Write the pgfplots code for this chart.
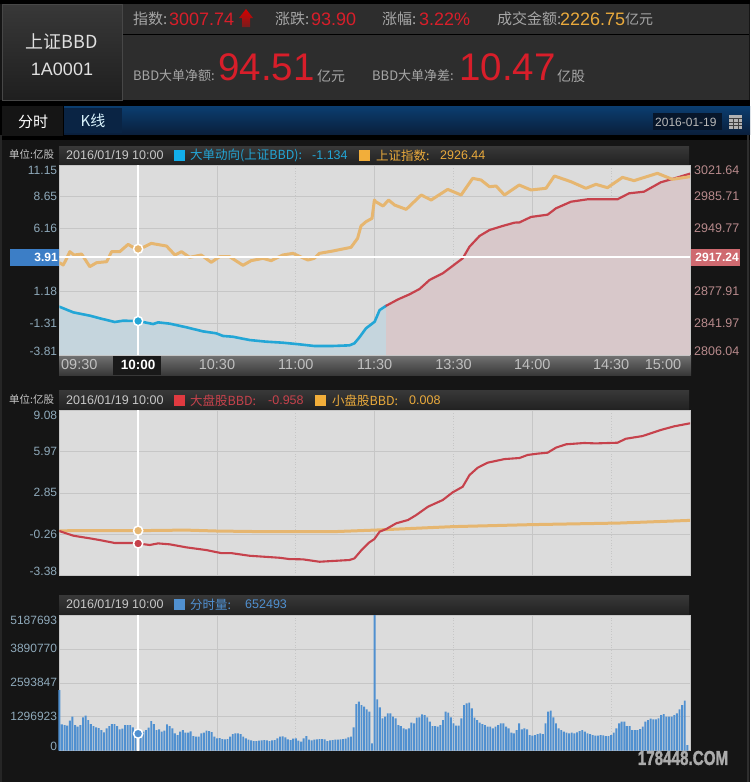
\documentclass[border=0pt]{standalone}
\usepackage{pgfplots}
\pgfplotsset{compat=1.18}
\usepackage{pgfplotstable}
\usepackage{fontspec}
\setmainfont{Liberation Sans}
\newfontfamily\cjk{Noto Sans CJK SC}
\definecolor{pagebg}{HTML}{151515}
\definecolor{plotbg}{HTML}{DCDCDC}
\definecolor{gridc}{HTML}{C6C6C6}
\definecolor{panel}{HTML}{2D2D2D}
\definecolor{cblue}{HTML}{23A6D6}
\definecolor{cblues}{HTML}{12AEEA}
\definecolor{corange}{HTML}{E6B670}
\definecolor{coranges}{HTML}{F2AE3A}
\definecolor{cred}{HTML}{C6424C}
\definecolor{creds}{HTML}{E03A40}
\definecolor{cbar}{HTML}{5090D0}
\definecolor{fillb}{HTML}{C5D5DD}
\definecolor{fillr}{HTML}{D8C8CA}
\definecolor{tll}{HTML}{8FAABB}
\definecolor{tlr}{HTML}{B88A8C}
\definecolor{txt}{HTML}{A6A6A6}
\definecolor{bigred}{HTML}{D81E2A}
\definecolor{gold}{HTML}{EAAA3C}
\definecolor{boxb}{HTML}{3C7EC6}
\definecolor{boxr}{HTML}{CF6A70}
\newcommand\fs[1]{\fontsize{#1}{#1}\selectfont}
\newcommand\R[2]{\raisebox{#1}{#2}}

\pgfplotstableread{
x y
0 -0.005
5.3 -0.45
11.6 -0.71
15.4 -0.92
21.1 -1.21
24.3 -1.11
30 -1.134
35.7 -1.37
37.6 -1.24
42 -1.34
48.4 -1.63
54.7 -1.95
59.7 -2.10
62.3 -2.31
66 -2.37
72.4 -2.63
78.7 -2.76
85 -2.84
91.4 -2.97
97 -3.10
104 -3.10
110.4 -3.05
112.3 -2.89
114.2 -2.42
116.7 -1.71
120 -1.19
121.9 -0.27
124.4 0.07
}\bluetab
\pgfplotstableread{
x y
124.4 0.07
128.9 0.57
133.3 0.97
137.1 1.39
140.9 2.10
145.9 2.62
153.5 3.80
156.1 4.72
159.9 5.56
163.7 6.03
168.7 6.35
173.2 6.61
175.1 6.63
179.5 7.06
185.8 7.24
189 7.74
194.7 8.26
201 8.45
212.4 8.45
216.8 8.92
222.5 9.05
228.9 9.79
233.3 10.05
240 10.47
}\redtab
\pgfplotstableread{
x y
0 2910.8
1.5 2908.2
2.5 2913.8
4 2923.3
5.6 2919.5
8.5 2920.6
11.6 2906.3
14.2 2910.8
18 2911.9
19.9 2923.3
23 2923.3
26.2 2931.6
28.1 2928.2
30 2926.44
32 2928.2
35 2932.7
40.8 2929.7
44 2919.5
46.5 2923.3
49.6 2916.9
54 2919.5
57.8 2911.2
61 2917.6
64.8 2917.6
69.9 2907.8
73 2913.1
77.5 2915.7
80.6 2913.1
85 2919.5
88.9 2921.4
94.6 2913.8
97 2915.7
99 2921.4
104 2924.0
111 2928.2
113.5 2938.4
114.8 2952.4
116.7 2957.3
119 2961.1
119.9 2981.9
120.4 2980.0
123.2 2975.1
125.3 2981.9
127.6 2976.2
132 2971.3
137.7 2987.6
141.5 2981.9
147.8 2994.0
152.9 2987.6
157.3 3006.5
160.5 3004.6
163.7 2997.0
166.2 2997.8
169.4 2987.6
175 2998.9
179.5 2993.3
185.2 2995.2
188.4 3009.2
194.7 3002.7
200.4 2995.2
204.2 2999.7
208.6 2995.9
214.3 3007.6
218.7 3003.9
227.6 3012.2
233.3 3005.4
240 3008.4
}\indextab
\pgfplotstableread{
x y
0 -0.02
1.5 -0.12
5.3 -0.37
11.6 -0.57
15.4 -0.70
21.1 -0.92
27.5 -0.92
30 -0.958
34.4 -1.07
37.6 -0.95
42 -1.02
48.4 -1.25
55.9 -1.45
61.6 -1.68
65.4 -1.68
72.4 -1.88
83.8 -2.03
87.6 -2.13
92.7 -2.15
99 -2.33
110.4 -2.20
112.3 -2.08
114.8 -1.50
118 -0.87
119.9 -0.62
121.9 -0.07
124.4 0.13
128.2 0.56
132.7 0.81
135.8 1.18
140.3 1.81
145.9 2.31
149.7 2.89
153.5 3.31
156.1 4.19
159.2 4.74
163 5.12
169.4 5.39
175.1 5.47
178.2 5.70
182 5.80
185.8 5.87
189 6.25
192.8 6.50
199.7 6.60
204.2 6.57
212.4 6.62
215.6 6.92
221.9 7.12
228.9 7.58
233.9 7.85
240 8.08
}\bigtab
\pgfplotstableread{
x y
0 0.0
30 0.008
48 0.05
60 -0.02
78.7 -0.07
104 -0.07
120 0.05
149.7 0.31
179.5 0.46
213 0.58
240 0.78
}\smalltab
\pgfplotstableread[row sep=\\,header=false]{
2319000\\1007000\\981000\\956000\\1147000\\1300000\\981000\\917000\\981000\\1274000\\1338000\\1172000\\1019000\\943000\\892000\\867000\\790000\\701000\\854000\\943000\\1019000\\1019000\\943000\\816000\\841000\\981000\\981000\\981000\\892000\\790000\\652493\\561000\\726000\\790000\\879000\\1134000\\1019000\\790000\\816000\\726000\\765000\\1007000\\943000\\854000\\663000\\599000\\726000\\790000\\688000\\688000\\739000\\561000\\535000\\535000\\663000\\688000\\765000\\752000\\714000\\535000\\
471000\\484000\\446000\\433000\\446000\\535000\\637000\\663000\\663000\\637000\\535000\\471000\\421000\\395000\\370000\\370000\\382000\\395000\\408000\\395000\\370000\\395000\\408000\\471000\\535000\\548000\\510000\\433000\\408000\\459000\\471000\\382000\\344000\\471000\\561000\\421000\\395000\\421000\\433000\\446000\\446000\\433000\\370000\\395000\\408000\\421000\\421000\\433000\\446000\\459000\\510000\\535000\\
892000\\1784000\\1873000\\1746000\\1682000\\1580000\\1491000\\280000\\5187693\\
1962000\\1657000\\1236000\\1300000\\1427000\\1427000\\1300000\\1236000\\981000\\943000\\854000\\816000\\854000\\1070000\\1045000\\1262000\\1274000\\1389000\\1364000\\1274000\\1109000\\943000\\943000\\917000\\981000\\1172000\\1491000\\1453000\\1274000\\1045000\\956000\\956000\\1236000\\1746000\\1810000\\1835000\\1618000\\1262000\\1172000\\1070000\\1020000\\981000\\917000\\917000\\854000\\917000\\981000\\1045000\\1045000\\917000\\854000\\688000\\663000\\790000\\1045000\\816000\\854000\\816000\\599000\\573000\\599000\\637000\\663000\\637000\\1045000\\1491000\\1529000\\1274000\\1045000\\854000\\790000\\726000\\688000\\663000\\688000\\663000\\701000\\752000\\790000\\726000\\663000\\637000\\599000\\573000\\573000\\599000\\585000\\561000\\561000\\599000\\688000\\854000\\1045000\\1109000\\1109000\\943000\\943000\\790000\\790000\\790000\\828000\\917000\\1109000\\1172000\\1223000\\1198000\\1198000\\1236000\\1364000\\1402000\\1300000\\1300000\\1300000\\1364000\\1427000\\1580000\\1746000\\1911000\\217000\\
}\voltab

\pgfplotsset{
 panel/.style={scale only axis,width=630.7pt,xmin=0,xmax=240,anchor=south west,
  axis line style={draw=none},tick style={draw=none},major tick length=0pt,
  scaled y ticks=false,
  grid style={gridc,line width=0.7pt},xmajorgrids=true,ymajorgrids=true,
  yticklabel style={font=\fs{12},text=tll,anchor=east,inner sep=0pt,text height=8pt,text depth=0pt,xshift=-2pt},
  xticklabel style={font=\fs{14.5},text=black!25,inner sep=0pt,text height=9pt,text depth=0pt,yshift=-5.5pt},
  extra x tick style={grid style={gridc,dotted,line width=0.7pt}},
  axis background/.style={fill=plotbg}},
 lin/.style={no markers,line join=round,line cap=round,line width=2.6pt},
 mk/.style={only marks,mark=*,mark size=4.6pt,mark options={draw=white,line width=1.5pt,fill=#1}},
}
\newcommand\hdr[2]{\shade[top color=black!78,bottom color=black!87] (59,#1) rectangle (689,#2);}

\begin{document}
\begin{tikzpicture}
\path[use as bounding box] (0,0) rectangle (750pt,-782pt);
\fill[pagebg] (0,0) rectangle (750pt,-782pt);
\begin{scope}[x=1pt,y=-1pt]
% outer
\fill[black] (0,0) rectangle (750,4);
\fill[black] (0,100) rectangle (750,140);
\fill[black!85] (0,135) rectangle (1.5,782);
\fill[black!82] (747,135) rectangle (748.5,782);
% top panels
\shade[top color=black!78,bottom color=black!88,draw=black!72] (2,4) rectangle (122,100);
\fill[panel] (123,4) rectangle (749,100);
\draw[black,line width=1pt] (123,34) -- (749,34);
\node[text=black!12,font=\cjk\fs{18}] at (62,42) {上证BBD};
\node[text=black!12,font=\fs{18}] at (62,69) {1A0001};
\tikzset{t/.style={anchor=west,inner sep=0pt}}
\node[t,text=txt,font=\cjk\fs{15}] at (133,19) {指数:};
\node[t,text=bigred,font=\fs{18}] at (169,19) {3007.74};
\shade[top color=red!85!black,bottom color=red!35!panel] (246,9) -- (253,18) -- (250,18) -- (250,27) -- (242,27) -- (242,18) -- (239,18) -- cycle;
\node[t,text=txt,font=\cjk\fs{15}] at (275,19) {涨跌:};
\node[t,text=bigred,font=\fs{18}] at (311,19) {93.90};
\node[t,text=txt,font=\cjk\fs{15}] at (382,19) {涨幅:};
\node[t,text=bigred,font=\fs{18}] at (419,19) {3.22\%};
\node[t,text=txt,font=\cjk\fs{15}] at (497,19) {成交金额:};
\node[t,text=gold,font=\fs{18}] at (560,19) {2226.75};
\node[t,text=txt,font=\cjk\fs{14}] at (625,19) {亿元};
\node[t,text=txt,font=\cjk\fs{13}] at (133,76) {BBD大单净额:};
\node[t,text=bigred,font=\fs{38.5}] at (218,67) {94.51};
\node[t,text=txt,font=\cjk\fs{14}] at (317,76) {亿元};
\node[t,text=txt,font=\cjk\fs{13}] at (372,76) {BBD大单净差:};
\node[t,text=bigred,font=\fs{38.5}] at (459,67) {10.47};
\node[t,text=txt,font=\cjk\fs{14}] at (557,76) {亿股};
% tab bar
\definecolor{barT}{HTML}{0B3E70}\definecolor{barB}{HTML}{0A1F3C}
\shade[top color=barT,bottom color=barB] (64,106) rectangle (750,134);
\fill[pagebg] (2,106) rectangle (63,136);
\fill[barB!85!barT] (64,108) rectangle (122,133);
\node[text=white,font=\cjk\fs{15}] at (33,122) {分时};
\node[text=cyan!15!white,font=\cjk\fs{15}] at (93,121) {K线};
\fill[black!30!barB] (653,113) rectangle (722,130);
\node[t,text=black!28,font=\fs{12}] at (655,122) {2016-01-19};
\fill[black!30] (729,115) rectangle (742,129);
\draw[black!75,line width=.6pt] (729,118.5)--(742,118.5) (729,122)--(742,122) (729,125.5)--(742,125.5) (733,118)--(733,129) (738,118)--(738,129);
% chart headers
\hdr{146}{165}\hdr{390}{410}\hdr{595}{615}
\shade[top color=black!55,bottom color=black!78] (59,355) rectangle (691,375);
\fill[black!90] (113,356) rectangle (161,375);
% header 1
\node[t,text=black!22,font=\fs{10.5}] at (9,154) {\cjk 单位:亿股};
\node[t,text=black!22,font=\fs{12.5}] at (66,155.5) {2016/01/19 10:00};
\fill[cblues] (174,150) rectangle (185,161);
\node[t,text=cblue,font=\cjk\fs{12.5}] at (190,155.5) {大单动向(上证BBD):};
\node[t,text=cblue,font=\fs{12.5}] at (312,155.5) {-1.134};
\fill[coranges] (359,150) rectangle (370,161);
\node[t,text=gold,font=\cjk\fs{12.5}] at (376,155.5) {上证指数:};
\node[t,text=gold,font=\fs{12.5}] at (440,155.5) {2926.44};
% header 2
\node[t,text=black!22,font=\fs{10.5}] at (9,399.5) {\cjk 单位:亿股};
\node[t,text=black!22,font=\fs{12.5}] at (66,400.5) {2016/01/19 10:00};
\fill[creds] (174,395) rectangle (185,406);
\node[t,text=cred,font=\cjk\fs{12.5}] at (190,400.5) {大盘股BBD:};
\node[t,text=cred,font=\fs{12.5}] at (268,400.5) {-0.958};
\fill[coranges] (315,395) rectangle (326,406);
\node[t,text=gold,font=\cjk\fs{12.5}] at (332,400.5) {小盘股BBD:};
\node[t,text=gold,font=\fs{12.5}] at (409,400.5) {0.008};
% header 3
\node[t,text=black!22,font=\fs{12.5}] at (66,604.5) {2016/01/19 10:00};
\fill[cbar] (174,599) rectangle (185,610);
\node[t,text=cbar,font=\cjk\fs{12.5}] at (190,604.5) {分时量:};
\node[t,text=cbar,font=\fs{12.5}] at (245,604.5) {652493};
% crosshair value boxes
\fill[boxb] (10,249) rectangle (59,266);
\fill[boxr] (690,249) rectangle (740,266);
\node[anchor=east,inner sep=0pt,text=white,font=\bfseries\fs{12}] at (58,257.5) {3.91};
\node[anchor=east,inner sep=0pt,text=white,font=\bfseries\fs{12}] at (739,257.5) {2917.24};
% watermark
\node[text=black!33,font=\bfseries\fs{20}\addfontfeature{FakeBold=2},xscale=.76] at (683,758) {178448.COM};
\end{scope}

% ---------- chart 1 left
\begin{axis}[panel,at={(59.3pt,-355pt)},height=190pt,ymin=-3.81,ymax=11.15,
  xtick={0,30,60,120,180,240},
  xticklabels={\hspace*{40pt}09:30,\textbf{\fs{13.5}\textcolor{white}{10:00}},10:30,11:30,14:00,15:00\hspace*{54pt}},
  extra x ticks={90,150,210},extra x tick labels={11:00,13:30,14:30},
  ytick={-3.81,-1.31,1.18,6.16,8.65,11.15},
  yticklabels={\R{4pt}{-3.81},-1.31,1.18,6.16,8.65,\R{-5pt}{11.15}}]
\addplot[fill=fillb,draw=none] table[x=x,y=y]{\bluetab} -- (axis cs:124.4,-3.81) -- (axis cs:0,-3.81) -- cycle;
\addplot[fill=fillr,draw=none] table[x=x,y=y]{\redtab} -- (axis cs:240,-3.81) -- (axis cs:124.4,-3.81) -- cycle;
\addplot[lin,cblue] table[x=x,y=y]{\bluetab};
\addplot[lin,cred,line width=2.2pt] table[x=x,y=y]{\redtab};
\draw[white,line width=2.3pt] (axis cs:30,-3.81) -- (axis cs:30,11.15);
\addplot[mk=cblue] coordinates {(30,-1.134)};
\end{axis}
% ---------- chart 1 right
\begin{axis}[panel,at={(59.3pt,-355pt)},height=190pt,ymin=2806.04,ymax=3021.64,
  axis x line=none,axis y line*=right,xmajorgrids=false,ymajorgrids=false,
  axis background/.style={},
  ytick={2806.04,2841.97,2877.91,2949.77,2985.71,3021.64},
  yticklabels={\R{4pt}{2806.04},2841.97,2877.91,2949.77,2985.71,\R{-5pt}{3021.64}},
  yticklabel style={font=\fs{12.5},text=tlr,anchor=west,inner sep=0pt,text height=8pt,text depth=0pt,xshift=6pt}]
\addplot[lin,corange,line width=3pt] table[x=x,y=y]{\indextab};
\draw[white,line width=2.8pt] (axis cs:0,2917.24) -- (axis cs:240,2917.24);
\addplot[mk=corange] coordinates {(30,2926.44)};
\end{axis}
% ---------- chart 2
\begin{axis}[panel,at={(59.3pt,-575.7pt)},height=165.7pt,ymin=-3.38,ymax=9.08,
  xtick={0,60,120,180,240},xticklabels={},
  extra x ticks={90,150,210},extra x tick labels={},
  ytick={-3.38,-0.26,2.85,5.97,9.08},
  yticklabels={\R{4pt}{-3.38},-0.26,2.85,5.97,\R{-5pt}{9.08}}]
\addplot[lin,corange,line width=3pt] table[x=x,y=y]{\smalltab};
\addplot[lin,cred,line width=2.1pt] table[x=x,y=y]{\bigtab};
\draw[white,line width=2.3pt] (axis cs:30,-3.38) -- (axis cs:30,9.08);
\addplot[mk=corange] coordinates {(30,0.008)};
\addplot[mk=cred] coordinates {(30,-0.958)};
\end{axis}
% ---------- chart 3
\begin{axis}[panel,at={(59.3pt,-750.7pt)},height=135.7pt,ymin=0,ymax=5187693,clip=false,
  xtick={0,60,120,180,240},xticklabels={},
  extra x ticks={90,150,210},extra x tick labels={},
  ytick={0,1296923,2593847,3890770,5187693},
  yticklabels={\R{4pt}{0},1296923,2593847,3890770,\R{-5pt}{5187693}}]
\addplot[ybar,bar width=1.9pt,bar shift=0pt,fill=cbar,draw=none] table[x expr=\coordindex,y index=0]{\voltab};
\draw[white,line width=2.3pt] (axis cs:30,0) -- (axis cs:30,5187693);
\addplot[mk=cbar] coordinates {(30,652493)};
\end{axis}
\end{tikzpicture}
\end{document}
